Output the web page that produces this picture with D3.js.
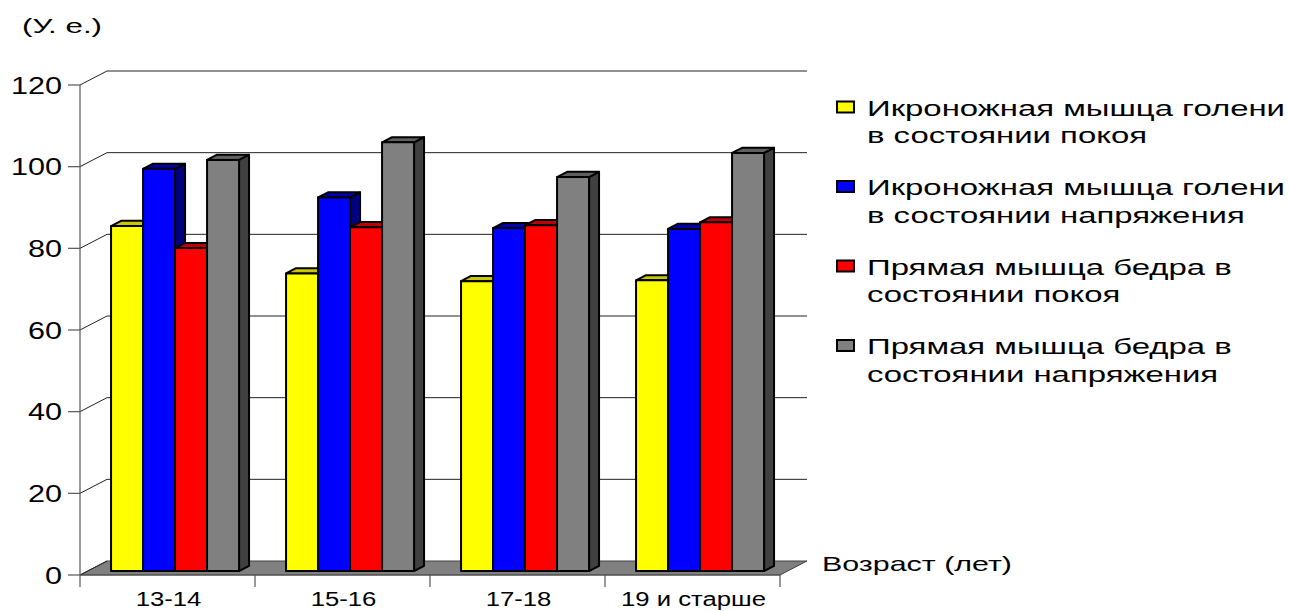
<!DOCTYPE html>
<html>
<head>
<meta charset="utf-8">
<script src="https://cdn.jsdelivr.net/npm/d3@7/dist/d3.min.js"></script>
<style>
  html, body { margin: 0; padding: 0; background: #fff; }
  svg { display: block; }
  text { font-family: "Liberation Sans", Arial, sans-serif; fill: #000; }
</style>
</head>
<body>
<svg id="chart" width="1289" height="611"></svg>
<script>
// Age groups on the horizontal axis
const categories = ["13-14", "15-16", "17-18", "19 и старше"];

// Legend entries, each split into its two display lines
const seriesNames = [
  ["Икроножная мышца голени", "в состоянии покоя"],
  ["Икроножная мышца голени", "в состоянии напряжения"],
  ["Прямая мышца бедра в", "состоянии покоя"],
  ["Прямая мышца бедра в", "состоянии напряжения"]
];

// Values per series, one per age group (conventional units)
const calfRest    = [84.5, 72.9, 71.0, 71.2];
const calfTension = [98.5, 91.5, 84.0, 83.8];
const thighRest   = [79.1, 84.2, 84.7, 85.4];
const thighTension= [100.7, 105.0, 96.5, 102.4];
const seriesValues = [calfRest, calfTension, thighRest, thighTension];

const yTicks = [0, 20, 40, 60, 80, 100, 120];

const yUnitLabel = "(У. е.)";
const xAxisLabel = "Возраст (лет)";

// Face colours: front, top, side
const palette = [
  { front: "#ffff00", top: "#c8c800", side: "#999900" },
  { front: "#0000ff", top: "#0000b0", side: "#000080" },
  { front: "#ff0000", top: "#c00000", side: "#800000" },
  { front: "#808080", top: "#606060", side: "#404040" }
];

const svg = d3.select("#chart");

// Widen a text horizontally by a common factor; align = "start" | "middle" | "end"
function widen(sel, k, align) {
  sel.each(function () {
    const node = this;
    const w = node.getComputedTextLength();
    const ax = +node.getAttribute("x");
    const target = w * k;
    let sx = ax;
    if (align === "middle") sx = ax - target / 2;
    if (align === "end") sx = ax - target;
    node.setAttribute("x", sx);
    node.setAttribute("text-anchor", "start");
    node.setAttribute("textLength", target);
    node.setAttribute("lengthAdjust", "spacingAndGlyphs");
  });
}
function factorFor(size, str, target) {
  const t = svg.append("text").style("font-size", size + "px").text(str);
  const w = t.node().getComputedTextLength();
  t.remove();
  return target / w;
}

// Front plane geometry and depth projection
const DX = 27, DY = -14;               // full depth offset of the back wall
const barFront = 0.28, barBack = 0.65; // bar depth as fraction of wall depth

const x = d3.scaleBand().domain(categories).range([80, 780]);
const y = d3.scaleLinear().domain([0, 120]).range([575, 85]);
const groupW = 128;
const inner = d3.scaleBand().domain(d3.range(seriesValues.length))
  .range([(x.bandwidth() - groupW) / 2, (x.bandwidth() + groupW) / 2]);

const line = d3.line();

// Floor
svg.append("path")
  .attr("d", line([[x.range()[0], y(0)], [x.range()[1], y(0)],
                   [x.range()[1] + DX, y(0) + DY], [x.range()[0] + DX, y(0) + DY]]) + "Z")
  .attr("fill", "#808080").attr("stroke", "#404040").attr("stroke-width", 1);

// Back wall gridlines and side-wall diagonals
const grid = svg.append("g").attr("stroke", "#222").attr("stroke-width", 1);
yTicks.filter(t => t > 0).forEach(t => {
  grid.append("line")
    .attr("x1", x.range()[0] + DX).attr("x2", x.range()[1] + DX)
    .attr("y1", y(t) + DY).attr("y2", y(t) + DY);
});
yTicks.forEach(t => {
  grid.append("line")
    .attr("x1", x.range()[0]).attr("y1", y(t))
    .attr("x2", x.range()[0] + DX).attr("y2", y(t) + DY);
});

// Front axes
const axes = svg.append("g");
const axisStroke = g => g.attr("stroke", "#555").attr("stroke-width", 1.2);
axes.append("line")
  .attr("x1", x.range()[0]).attr("x2", x.range()[0])
  .attr("y1", y(120)).attr("y2", y(0)).call(axisStroke);
axes.append("line")
  .attr("x1", x.range()[0]).attr("x2", x.range()[1])
  .attr("y1", y(0)).attr("y2", y(0)).call(axisStroke);

yTicks.forEach(t => {
  axes.append("line")
    .attr("x1", x.range()[0] - 12).attr("x2", x.range()[0])
    .attr("y1", y(t)).attr("y2", y(t)).call(axisStroke);
});
const yLabels = axes.selectAll("text.ylab").data(yTicks).join("text")
  .attr("class", "ylab")
  .attr("x", 62).attr("y", d => y(d) + 8.5)
  .style("font-size", "23px")
  .text(d => d);
widen(yLabels, factorFor(23, "120", 51), "end");

const catBounds = categories.map(c => x(c)).concat([x.range()[1]]);
catBounds.forEach(b => {
  axes.append("line")
    .attr("x1", b).attr("x2", b)
    .attr("y1", y(0)).attr("y2", y(0) + 12).call(axisStroke);
});
const xLabels = axes.selectAll("text.xlab").data(categories).join("text")
  .attr("class", "xlab")
  .attr("x", d => x(d) + x.bandwidth() / 2 + 1)
  .attr("y", 606)
  .style("font-size", "20px")
  .text(d => d);
widen(xLabels, factorFor(20, "19 и старше", 145), "middle");

// Bars (drawn left to right so each bar hides its neighbour's side face)
const bx = barFront * DX, by = barFront * DY;
const dx = (barBack - barFront) * DX, dy = (barBack - barFront) * DY;
const bars = svg.append("g")
  .attr("stroke", "#000").attr("stroke-width", 2).attr("stroke-linejoin", "round");

categories.forEach((c, ci) => {
  seriesValues.forEach((vals, si) => {
    const v = vals[ci];
    const x0 = x(c) + inner(si) + bx;
    const x1 = x0 + inner.bandwidth();
    const yT = y(v) + by;
    const yB = y(0) + by;
    const col = palette[si];
    bars.append("path")
      .attr("d", line([[x1, yT], [x1 + dx, yT + dy], [x1 + dx, yB + dy], [x1, yB]]) + "Z")
      .attr("fill", col.side);
    bars.append("path")
      .attr("d", line([[x0, yT], [x0 + dx, yT + dy], [x1 + dx, yT + dy], [x1, yT]]) + "Z")
      .attr("fill", col.top);
    bars.append("path")
      .attr("d", line([[x0, yT], [x1, yT], [x1, yB], [x0, yB]]) + "Z")
      .attr("fill", col.front);
  });
});

// Unit label and axis title
const unit = svg.append("text")
  .attr("x", 22).attr("y", 33)
  .style("font-size", "21px")
  .text(yUnitLabel);
widen(unit, factorFor(21, yUnitLabel, 80), "start");
const xTitle = svg.append("text")
  .attr("x", 822).attr("y", 571)
  .style("font-size", "21px")
  .text(xAxisLabel);
widen(xTitle, factorFor(21, xAxisLabel, 190), "start");

// Legend
const legend = svg.append("g");
const legendK = factorFor(22, seriesNames[0][0], 418);
seriesNames.forEach((lines, i) => {
  const base = 115.5 + i * 79.5;
  legend.append("rect")
    .attr("x", 837).attr("y", base - 14)
    .attr("width", 17).attr("height", 11)
    .attr("fill", palette[i].front)
    .attr("stroke", "#000").attr("stroke-width", 2);
  lines.forEach((t, li) => {
    const tx = legend.append("text")
      .attr("x", 867).attr("y", base + li * 27.7)
      .style("font-size", "22px")
      .text(t);
    widen(tx, legendK, "start");
  });
});
</script>
</body>
</html>
